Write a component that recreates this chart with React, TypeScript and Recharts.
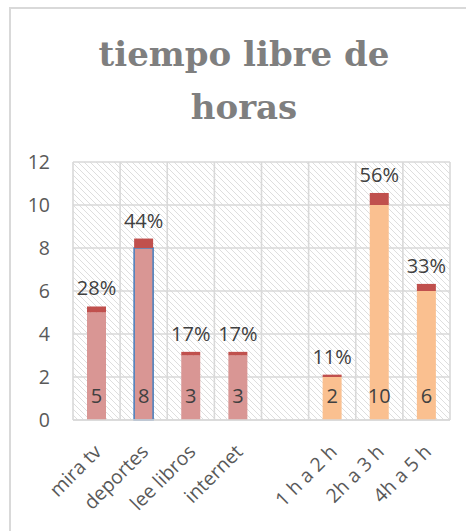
import React from "react";
import { BarChart, Bar, XAxis, YAxis, CartesianGrid, LabelList, Cell } from "recharts";

const categories = ["mira tv", "deportes", "lee libros", "internet", "", "1 h a 2 h", "2h a 3 h", "4h a 5 h"];
const counts = [5, 8, 3, 3, null, 2, 10, 6];
const shares = [0.28, 0.44, 0.17, 0.17, null, 0.11, 0.56, 0.33];
const groups = ["actividad", "actividad", "actividad", "actividad", "", "horas", "horas", "horas"];
const yTicks = [0, 2, 4, 6, 8, 10, 12];
const titleLines = ["tiempo libre de", "horas"];

const groupColor: Record<string, string> = { actividad: "#D99694", horas: "#FAC090", "": "#D99694" };

const data = categories.map((c, i) => ({ cat: c, count: counts[i], share: shares[i], group: groups[i] }));

const W = 466;
const H = 531;
const M = { top: 162, right: 16, bottom: 81, left: 0 };
const FONT = "'Open Sans', 'Liberation Sans', sans-serif";

const XTick = (props: any) => {
  const { x, y, payload } = props;
  const ax = x + 6;
  return (
    <text
      x={ax}
      y={y}
      transform={`rotate(-45, ${ax}, ${y})`}
      textAnchor="end"
      fill="#595959"
      fontSize={19.5}
      fontFamily={FONT}
    >
      {payload.value}
    </text>
  );
};

export default function App() {
  return (
    <div style={{ position: "fixed", left: 0, top: 0, width: W, height: H, overflow: "hidden", background: "#fff" }}>
      <div
        style={{
          position: "absolute",
          left: 9,
          top: 7,
          width: 600,
          height: 700,
          border: "2px solid #D9D9D9",
          boxSizing: "border-box",
        }}
      />
      <div style={{ position: "absolute", left: 0, top: 0 }}>
        <BarChart width={W} height={H} data={data} margin={M} barSize={19}>
          <defs>
            <pattern id="hatch" patternUnits="userSpaceOnUse" width="6" height="6">
              <rect width="6" height="6" fill="#ffffff" />
              <path d="M-1,-1 L7,7 M-1,5 L1,7 M5,-1 L7,1" stroke="#DEDEDE" strokeWidth="1" />
            </pattern>
          </defs>
          <CartesianGrid
            fill="url(#hatch)"
            stroke="#D9D9D9"
            strokeWidth={1.6}
            verticalCoordinatesGenerator={({ offset }: any) =>
              categories.map((_, i) => offset.left + (i * offset.width) / categories.length).concat([offset.left + offset.width])
            }
          />
          <XAxis
            dataKey="cat"
            interval={0}
            height={30}
            tickLine={false}
            axisLine={{ stroke: "#D9D9D9", strokeWidth: 1.6 }}
            tick={<XTick />}
            tickSize={0}
            tickMargin={33}
          />
          <YAxis
            domain={[0, 12]}
            ticks={yTicks}
            width={73}
            axisLine={false}
            tickLine={false}
            tickSize={0}
            tickMargin={23}
            tick={{ fill: "#595959", fontSize: 19.5, fontFamily: FONT }}
          />
          <Bar dataKey="count" stackId="a" isAnimationActive={false}>
            {data.map((d, i) => (
              <Cell
                key={i}
                fill={groupColor[d.group]}
                stroke={d.cat === "deportes" ? "#4F81BD" : "none"}
                strokeWidth={d.cat === "deportes" ? 1.6 : 0}
              />
            ))}
            <LabelList dataKey="count" position="insideBottom" offset={17} fill="#404040" fontSize={20} fontFamily={FONT} />
          </Bar>
          <Bar dataKey="share" stackId="a" fill="#C0504D" isAnimationActive={false}>
            <LabelList
              dataKey="share"
              position="top"
              offset={11}
              fill="#404040"
              fontSize={20}
              fontFamily={FONT}
              formatter={(v: any) => (v == null ? "" : `${Math.round(v * 100)}%`)}
            />
          </Bar>
        </BarChart>
      </div>
      <div
        style={{
          position: "absolute",
          left: 0,
          top: 28,
          width: 488,
          textAlign: "center",
          fontFamily: "'DejaVu Serif', serif",
          fontWeight: "bold",
          fontSize: 34,
          lineHeight: "53px",
          color: "#7F7F7F",
        }}
      >
        {titleLines.map((l, i) => (
          <div key={i}>{l}</div>
        ))}
      </div>
    </div>
  );
}
